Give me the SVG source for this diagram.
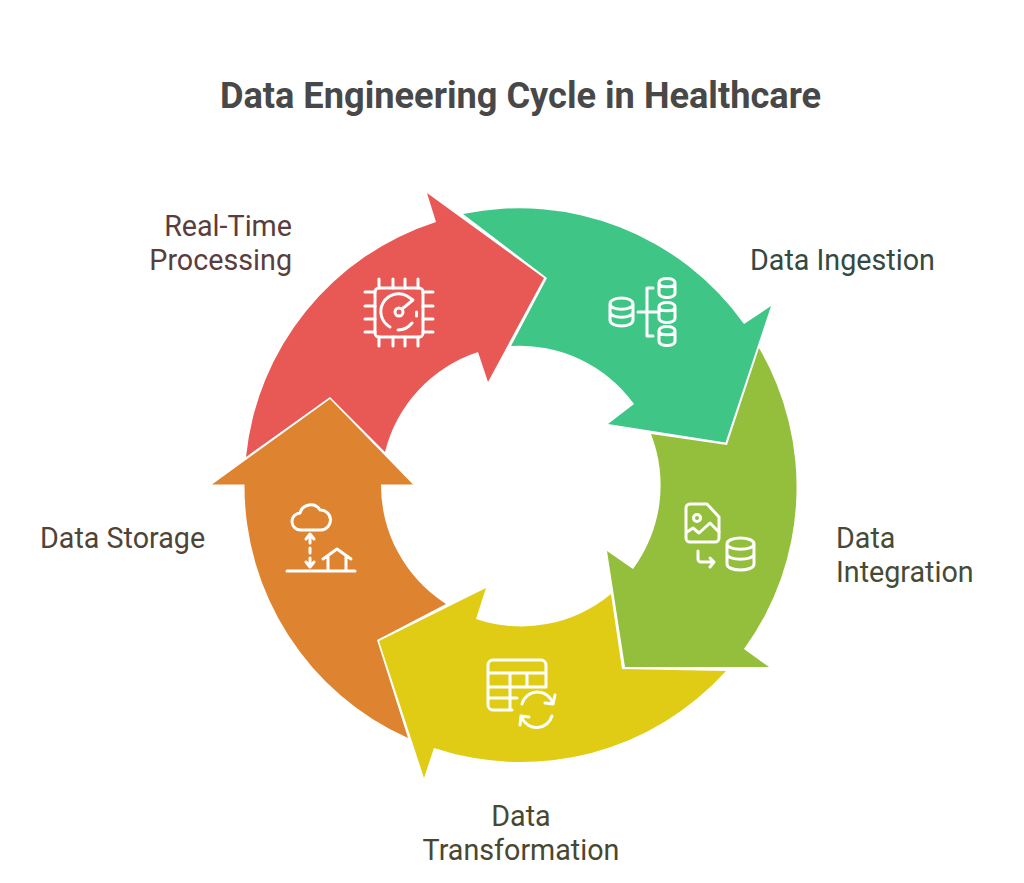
<svg xmlns="http://www.w3.org/2000/svg" width="1024" height="883" viewBox="0 0 1024 883">
<style>
text{font-family:Roboto,"Liberation Sans",sans-serif;font-size:28.700px}
.title{font-size:36.200px;font-weight:700;fill:#484848}
.i{fill:none;stroke:#fff;stroke-width:3;stroke-linecap:round;stroke-linejoin:round}
</style>
<rect width="1024" height="883" fill="#fff"/>
<text class="title" x="520.5" y="108" text-anchor="middle">Data Engineering Cycle in Healthcare</text>
<g id="connectors"></g>
<g id="node-realtime">
<path fill="#e85854" d="M427,193 L544,278 L488,382 L478,352 A141,141 0 0 0 385,452 L330,397 L246,457 A276,276 0 0 1 436,222 Z"/>
<g class="i"><rect x="375" y="288" width="48" height="49" rx="4"/>
<path d="M379,279v9M393,279v9M405,279v9M418,279v9M379,337v9M393,337v9M405,337v9M418,337v9M365,292h10M365,306h10M365,319h10M365,332h10M423,292h10M423,306h10M423,319h10M423,332h10"/>
<circle cx="399" cy="312" r="4"/>
<path d="M390,327A17,17 0 0 1 407,296L413,300L402,309M416.500,312v4M398,330A18,18 0 0 0 412,323"/></g>
<text x="292" y="236" text-anchor="end" fill="#5b3d3d">Real-Time</text>
<text x="292" y="270" text-anchor="end" fill="#5b3d3d">Processing</text>
</g>
<g id="node-ingestion">
<path fill="#3fc687" d="M463,214 A276,276 0 0 1 744,324 L771,306 L725.500,442.500 L608,424 L634,404 A141,141 0 0 0 511,346 L547,278 Z"/>
<g class="i"><path d="M610,304c0-8 23-8 23,0v16c0,8-23,8-23,0zM610,304c0,7 23,7 23,0M610,312c0,7 23,7 23,0"/>
<path d="M659,283c0-6 16-6 16,0v10c0,6-16,6-16,0zM659,283c0,5 16,5 16,0M659,307c0-6 16-6 16,0v11c0,6-16,6-16,0zM659,307c0,5 16,5 16,0M659,331c0-6 16-6 16,0v10c0,6-16,6-16,0zM659,331c0,5 16,5 16,0"/>
<path d="M653,288h-6v48h6M638,312h20"/></g>
<text x="750" y="270" fill="#34493f">Data Ingestion</text>
</g>
<g id="node-integration">
<path fill="#93bf3c" d="M759,348 A276,276 0 0 1 744,649 L769,667 L625,667 L607,551 L633,569 A141,141 0 0 0 651,434 L727,445 Z"/>
<g class="i"><path d="M690,504H707L719,517V538a4,4 0 0 1-4,4H690a4,4 0 0 1-4-4V508a4,4 0 0 1 4-4z"/><circle cx="697" cy="518" r="3.500"/>
<path d="M687,532L693,528L699,533L710,523L719,532"/>
<path d="M698,551v8a3,3 0 0 0 3,3h13M710,558l4,4l-4,5"/>
<path d="M727,544c0-8 27-8 27,0v20c0,8-27,8-27,0zM727,544c0,7 27,7 27,0M727,554c0,7 27,7 27,0"/></g>
<text x="836" y="548" fill="#454b36">Data</text>
<text x="836" y="582" fill="#454b36">Integration</text>
</g>
<g id="node-transformation">
<path fill="#e0cc15" d="M726,671 A276,276 0 0 1 434,748 L424,778 L379,641 L486,588 L476,619 A141,141 0 0 0 611,594 L622,669 Z"/>
<g class="i"><path d="M546,687V665a5,5 0 0 0-5-5H493a5,5 0 0 0-5,5V705a5,5 0 0 0 5,5H512M488,673H546M488,687H546M488,698H517M510,673V710M527,673V687"/>
<path d="M522,704A16,16 0 0 1 553,704M555,695L553,704L545,703M552,716A16,16 0 0 1 522,718M520,725L521,716L529,717"/></g>
<text x="521" y="826" text-anchor="middle" fill="#4a4730">Data</text>
<text x="521" y="860" text-anchor="middle" fill="#4a4730">Transformation</text>
</g>
<g id="node-storage">
<path fill="#de8430" d="M212,484.500 L330,399 L413,484.500 L381,484.500 A141,141 0 0 0 446,604 L377,640 L408,738 A276,276 0 0 1 244.500,484.500 Z"/>
<g class="i"><path d="M301,530a8.500,8.500 0 0 1-1-17a11,11 0 0 1 20-3a10,10 0 0 1 1,20z"/>
<path d="M310,537v6M310,548v5M310,558v8M306,539l4-5l4,5M306,562l4,5l4-5M287,571H355M323,559L337,549L351,559M328,556V571M346,556V571"/></g>
<text x="40" y="548" fill="#4f4436">Data Storage</text>
</g>
</svg>
